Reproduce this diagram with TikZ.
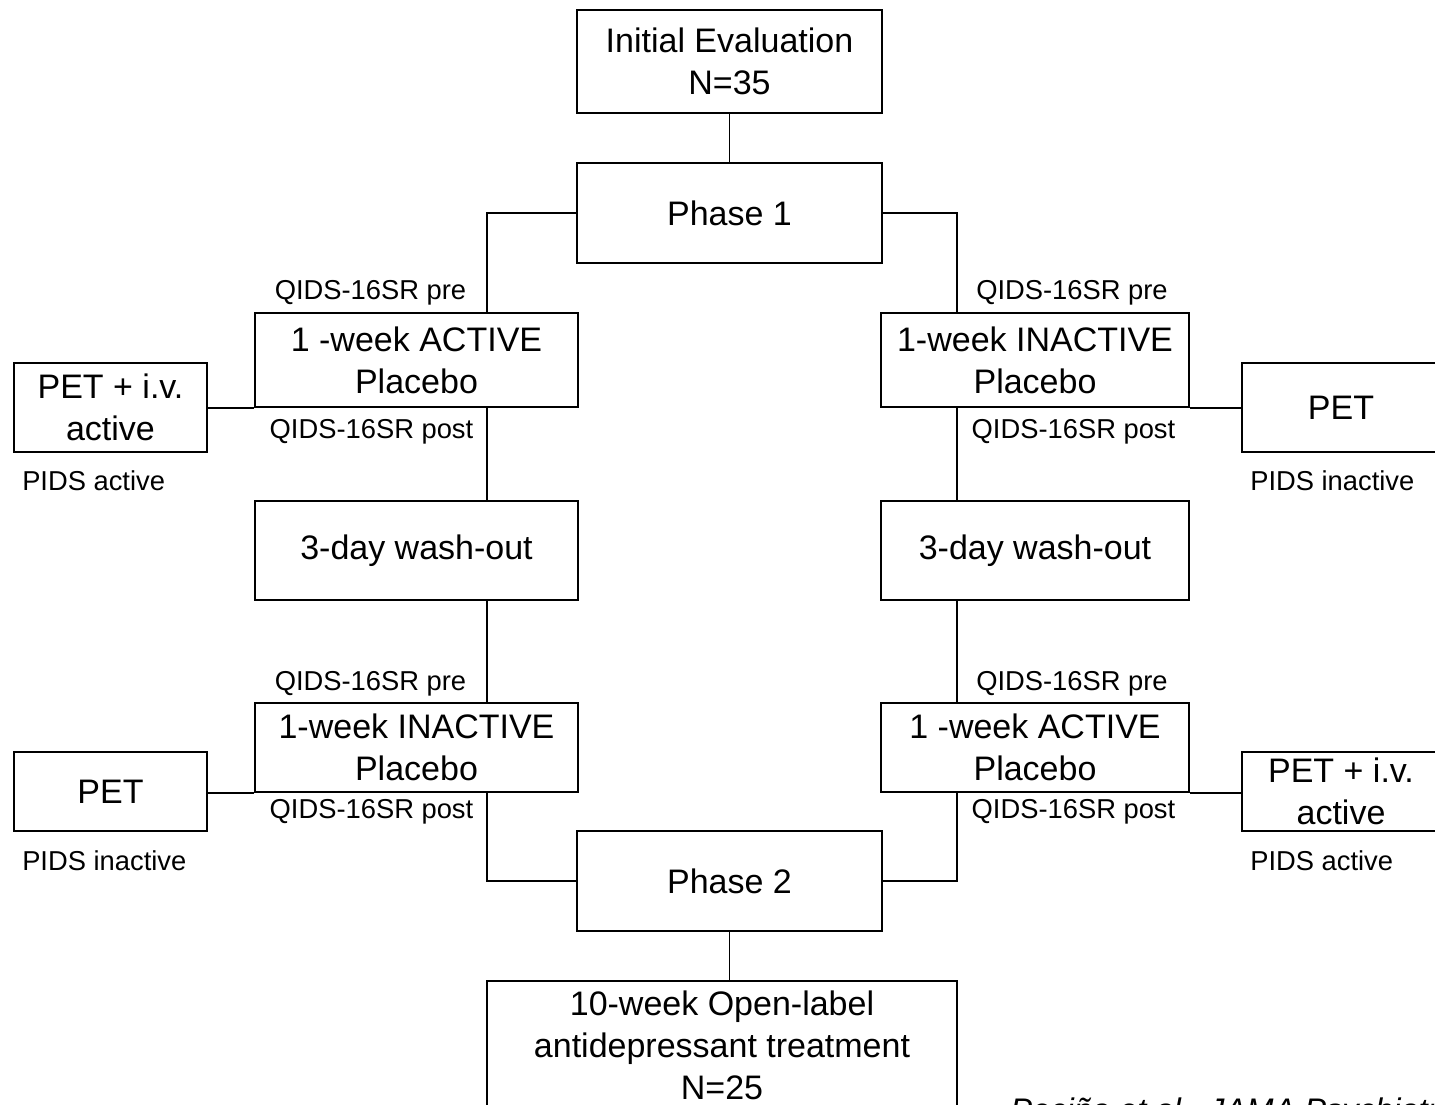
\documentclass[tikz,border=0pt]{standalone}
\usepackage{fontspec}
\setmainfont{Liberation Sans}
\begin{document}
\begin{tikzpicture}[x=0.75pt,y=-0.75pt,
  box/.style={draw, line width=1.4pt, align=center, inner sep=0pt,
    font=\fontsize{25.5}{31.5}\selectfont},
  lbl/.style={inner sep=0pt, font=\fontsize{20.5}{24}\selectfont},
  conn/.style={line width=1.4pt}]
\useasboundingbox (0,0) rectangle (1435,1105);
\clip (0,0) rectangle (1435,1105);
% main column
\node[box, minimum width=228.75pt, minimum height=77.25pt] (init) at (729.5,61.5) {Initial Evaluation\\N=35};
\node[box, minimum width=228.75pt, minimum height=75pt] (ph1) at (729.5,213) {Phase 1};
\node[box, minimum width=228.75pt, minimum height=75pt] (ph2) at (729.5,881) {Phase 2};
\node[box, minimum width=352.5pt, minimum height=96.75pt] (final) at (722,1045.5) {10-week Open-label\\antidepressant treatment\\N=25};
% left column
\node[box, minimum width=242.25pt, minimum height=70.5pt] (L1) at (416.5,360) {1 -week ACTIVE\\Placebo};
\node[box, minimum width=242.25pt, minimum height=74.25pt] (WL) at (416.5,550.5) {3-day wash-out};
\node[box, minimum width=242.25pt, minimum height=66.75pt] (L2) at (416.5,747.5) {1-week INACTIVE\\Placebo};
% right column
\node[box, minimum width=231pt, minimum height=70.5pt] (R1) at (1035,360) {1-week INACTIVE\\Placebo};
\node[box, minimum width=231pt, minimum height=74.25pt] (WR) at (1035,550.5) {3-day wash-out};
\node[box, minimum width=231pt, minimum height=66.75pt] (R2) at (1035,747.5) {1 -week ACTIVE\\Placebo};
% PET boxes
\node[box, minimum width=144.75pt, minimum height=66.75pt] (PL1) at (110.5,407.5) {PET + i.v.\\active};
\node[box, minimum width=144.75pt, minimum height=59.25pt] (PL2) at (110.5,791.5) {PET};
\node[box, minimum width=148.5pt, minimum height=66.75pt] (PR1) at (1341,407.5) {PET};
\node[box, minimum width=148.5pt, minimum height=59.25pt] (PR2) at (1341,791.5) {PET + i.v.\\active};
% labels
\node[lbl, anchor=base] (lpre1) at (370.5,300) {QIDS-16SR pre};
\node[lbl, anchor=base] (lpost1) at (371.5,439) {QIDS-16SR post};
\node[lbl, anchor=base] (rpre1) at (1072,300) {QIDS-16SR pre};
\node[lbl, anchor=base] (rpost1) at (1073.5,439) {QIDS-16SR post};
\node[lbl, anchor=base] (lpre2) at (370.5,690) {QIDS-16SR pre};
\node[lbl, anchor=base] (lpost2) at (371.5,818) {QIDS-16SR post};
\node[lbl, anchor=base] (rpre2) at (1072,690) {QIDS-16SR pre};
\node[lbl, anchor=base] (rpost2) at (1073.5,818) {QIDS-16SR post};
\node[lbl, anchor=base west] (pids1) at (22,490) {PIDS active};
\node[lbl, anchor=base west] (pids2) at (1250,490) {PIDS inactive};
\node[lbl, anchor=base west] (pids3) at (22,870) {PIDS inactive};
\node[lbl, anchor=base west] (pids4) at (1250,870) {PIDS active};
\node[inner sep=0pt, anchor=base west, font=\fontsize{24.5}{28}\selectfont\itshape] (cite) at (1010,1121) {Peciña et al., JAMA Psychiatry};
% connectors
\coordinate (lx) at (487,0);
\coordinate (rx) at (957,0);
\draw[conn] (init.south) -- (ph1.north);
\draw[conn] (ph1.west) -| (lx |- L1.north);
\draw[conn] (lx |- L1.south) -- (lx |- WL.north);
\draw[conn] (lx |- WL.south) -- (lx |- L2.north);
\draw[conn] (lx |- L2.south) |- (ph2.west);
\draw[conn] (ph1.east) -| (rx |- R1.north);
\draw[conn] (rx |- R1.south) -- (rx |- WR.north);
\draw[conn] (rx |- WR.south) -- (rx |- R2.north);
\draw[conn] (rx |- R2.south) |- (ph2.east);
\draw[conn] (ph2.south) -- (ph2.south |- final.north);
\draw[conn] (L1.south west) -- (L1.south west -| PL1.east);
\draw[conn] (L2.south west) -- (L2.south west -| PL2.east);
\draw[conn] (R1.south east) -- (R1.south east -| PR1.west);
\draw[conn] (R2.south east) -- (R2.south east -| PR2.west);
\end{tikzpicture}
\end{document}
